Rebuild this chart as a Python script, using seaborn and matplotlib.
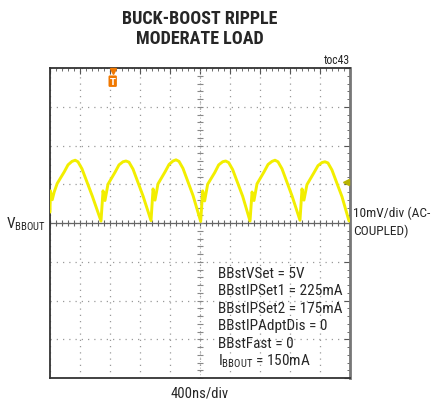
import matplotlib
matplotlib.use("Agg")
import matplotlib.pyplot as plt
import matplotlib.font_manager as fm
import pandas as pd
import seaborn as sns

# scope trace: time in ns (400ns/div), ripple in mV (10mV/div)
t_ns = [0, 5, 30, 56, 96, 190, 240, 293, 336, 373, 426, 563,
        680, 707, 733, 773, 867, 920, 973, 1013, 1053, 1107, 1240,
        1347, 1374, 1400, 1440, 1534, 1587, 1640, 1680, 1720, 1773, 1907,
        2009, 2036, 2062, 2102, 2196, 2249, 2302, 2342, 2382, 2435, 2569,
        2667, 2694, 2720, 2760, 2854, 2907, 2960, 3000, 3040, 3093, 3227,
        3333, 3360, 3386, 3426, 3520, 3573, 3626, 3666, 3706, 3759, 3893, 3987]
v_mv = [2.8, 8.3, 6.0, 8.0, 10.2, 13.2, 15.0, 15.9, 16.2, 15.8, 14.0, 7.0,
        0.5, 8.3, 5.8, 10.0, 13.1, 15.0, 15.8, 16.0, 15.7, 13.9, 7.0,
        0.6, 8.8, 5.9, 10.1, 13.2, 15.1, 16.0, 16.3, 15.9, 14.1, 7.1,
        0.4, 8.3, 5.7, 10.0, 13.0, 15.0, 15.8, 16.0, 15.6, 13.8, 6.9,
        0.5, 8.0, 5.8, 10.1, 13.2, 15.1, 15.9, 16.2, 15.8, 14.0, 7.0,
        0.7, 8.8, 5.9, 9.9, 13.0, 14.8, 15.6, 15.8, 15.5, 13.7, 6.8, 0.5]

trig_ns = 836        # trigger position marker
level_mv = 10.7      # trigger level arrow

title_lines = ["BUCK-BOOST RIPPLE", "MODERATE LOAD"]
settings = ["BBstVSet = 5V", "BBstIPSet1 = 225mA", "BBstIPSet2 = 175mA",
            "BBstIPAdptDis = 0", "BBstFast = 0",
            r"I$_{\mathregular{BBOUT}}$ = 150mA"]

sns.set_style("white")


def wt(f):
    w = f.weight
    if isinstance(w, str):
        return 700 if "bold" in w.lower() else 400
    return w


entries = fm.fontManager.ttflist
names = {f.name for f in entries}
prefer = ["Liberation Sans Narrow", "Arial Narrow", "Roboto Condensed",
          "Open Sans Condensed"]
narrow = [n for n in prefer if n in names] + \
    sorted(n for n in names if ("Narrow" in n or "Condensed" in n) and "DejaVu" not in n)
if narrow:
    fam = [narrow[0], "Liberation Sans", "DejaVu Sans"]
    k = 1.0
    has_bold = any(f.name == narrow[0] and wt(f) >= 600 for f in entries)
else:
    fam = ["Liberation Sans", "DejaVu Sans"]
    k = 0.8
    has_bold = True
plt.rcParams["font.family"] = fam
if has_bold:
    title_font = dict(family=fam, fontsize=13 * k, fontweight="bold")
else:
    title_font = dict(family=["Liberation Sans", "DejaVu Sans"], fontsize=10.4,
                      fontweight="bold")

W, H = 433, 402
fig = plt.figure(figsize=(W / 100, H / 100), dpi=100)
ax = fig.add_axes([50 / W, 1 - 379 / H, 300 / W, 310 / H])

df = pd.DataFrame({"t": t_ns, "v": v_mv})
sns.lineplot(data=df, x="t", y="v", ax=ax, sort=False, color="#f2ee00",
             linewidth=2.1, zorder=3)

ax.set_xlim(0, 4000)
ax.set_ylim(-40, 40)
ax.set_xlabel("")
ax.set_ylabel("")

# graticule
ax.set_xticks(range(0, 4001, 400))
ax.set_yticks(range(-40, 41, 10))
ax.set_xticks(range(0, 4001, 80), minor=True)
ax.set_yticks(range(-40, 41, 2), minor=True)
ax.tick_params(which="both", direction="in", top=True, right=True,
               labelbottom=False, labelleft=False, color="#555555")
ax.tick_params(which="major", length=4, width=0.8)
ax.tick_params(which="minor", length=2.5, width=0.6)
ax.grid(True, which="major", color="#9a9a9a", linestyle=(0, (1, 4)), linewidth=0.9)
for s in ax.spines.values():
    s.set_color("#333333")
    s.set_linewidth(1.3)
ax.spines["right"].set_color("#777777")
ax.spines["right"].set_linewidth(2)

ax.axhline(0, color="#666666", linewidth=0.9, zorder=2)
ax.axvline(2000, color="#9a9a9a", linewidth=0.6, linestyle=(0, (1, 3)), zorder=2)
ax.plot(list(range(0, 4001, 80)), [0] * 51, linestyle="none", marker="|",
        markersize=5, color="#666666", markeredgewidth=0.8, zorder=2)
ax.plot([2000] * 41, list(range(-40, 41, 2)), linestyle="none", marker="_",
        markersize=5, color="#888888", markeredgewidth=0.8, zorder=2)

# trigger markers
ax.plot([trig_ns], [39.3], marker="v", color="#f07800", markersize=4,
        clip_on=False, zorder=5)
ax.text(trig_ns, 36.6, "T", ha="center", va="center", color="white",
        fontsize=6, fontweight="bold", family="DejaVu Sans", zorder=5,
        bbox=dict(boxstyle="round,pad=0.15", fc="#f07800", ec="none"))
ax.plot([3950], [level_mv], marker="<", color="#b8b400", markersize=4, zorder=5)

# labels
for i, line in enumerate(title_lines):
    fig.text(200 / W, 1 - (19 + 20 * i) / H, line, ha="center", va="center",
             **title_font)
fig.text(350 / W, 1 - 61 / H, "toc43", ha="right", va="center", fontsize=8.5 * k)
fig.text(46 / W, 1 - 224 / H, r"V$_{\mathregular{BBOUT}}$", ha="right",
         va="center", fontsize=11 * k)
fig.text(353 / W, 1 - 213 / H, "10mV/div (AC-", ha="left", va="center", fontsize=9.6 * k)
fig.text(353 / W, 1 - 231 / H, "COUPLED)", ha="left", va="center", fontsize=9.6 * k)
fig.text(200 / W, 1 - 394 / H, "400ns/div", ha="center", va="center", fontsize=10.5 * k)
for i, line in enumerate(settings):
    fig.text(218 / W, 1 - (274 + 17.4 * i) / H, line, ha="left", va="center",
             fontsize=11 * k)

fig.savefig("out.png", dpi=100)
